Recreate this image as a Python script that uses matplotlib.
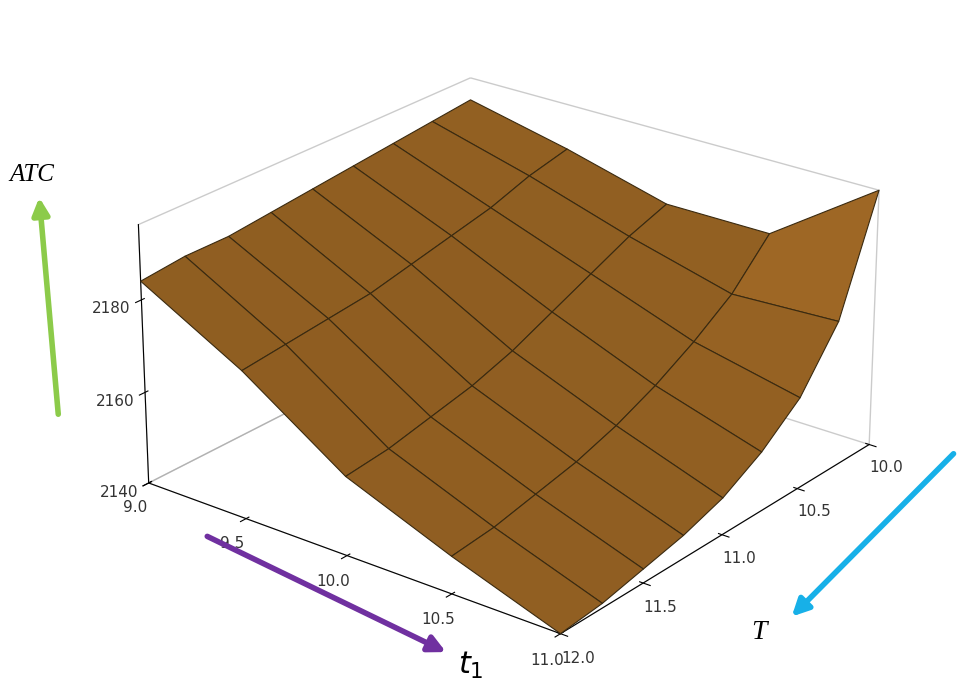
import numpy as np
import matplotlib
matplotlib.use("Agg")
import matplotlib.pyplot as plt
from matplotlib.patches import FancyArrowPatch
from matplotlib.colors import LightSource

t1_vals = [9.0, 9.5, 10.0, 10.5, 11.0]
T_vals = [10.0, 10.25, 10.5, 10.75, 11.0, 11.25, 11.5, 11.75, 12.0]
atc = [
    [2191, 2190, 2189, 2188, 2187, 2186, 2185, 2185, 2184],
    [2186, 2184, 2181, 2179, 2177, 2175, 2174, 2173, 2172],
    [2180, 2177, 2173, 2169, 2165, 2162, 2160, 2158, 2157],
    [2180, 2171, 2165, 2160, 2156, 2153, 2151, 2149, 2148],
    [2196, 2172, 2160, 2153, 2148, 2145, 2143, 2141, 2140],
]

T, t1 = np.meshgrid(T_vals, t1_vals)
Z = np.array(atc, dtype=float)

fig = plt.figure(figsize=(9.75, 6.95), dpi=100)
ax = fig.add_axes([0.05, -0.05, 0.93, 1.1], projection='3d')
ax.set_box_aspect((1.15, 1.15, 0.62))
ax.plot_surface(T, t1, Z, color='#F9A33A', edgecolor='#3a2a10', linewidth=0.8,
                shade=True, lightsource=LightSource(azdeg=200, altdeg=75),
                antialiased=True)
ax.view_init(elev=24, azim=38)
ax.set_xlim(10, 12); ax.set_ylim(9, 11); ax.set_zlim(2140, 2196)
ax.set_xticks([10.0, 10.5, 11.0, 11.5, 12.0])
ax.set_yticks([9.0, 9.5, 10.0, 10.5, 11.0])
ax.set_zticks([2140, 2160, 2180])
ax.set_xticklabels(['10.0', '10.5', '11.0', '11.5', '12.0'], fontsize=11, color='#333')
ax.set_yticklabels(['9.0', '9.5', '10.0', '10.5', '11.0'], fontsize=11, color='#333')
ax.set_zticklabels(['2140', '2160', '2180'], fontsize=11, color='#333')
for a in (ax.xaxis, ax.yaxis, ax.zaxis):
    a.pane.fill = False
    a.pane.set_edgecolor('#999')
    a._axinfo['grid']['color'] = (1, 1, 1, 0)
ax.grid(False)

def arrow(p0, p1, c):
    fig.patches.append(FancyArrowPatch(p0, p1, transform=fig.transFigure,
                       arrowstyle='-|>', mutation_scale=25, lw=4, color=c))

arrow((0.06, 0.40), (0.04, 0.72), '#8CCB4A')
arrow((0.21, 0.23), (0.46, 0.06), '#7030A0')
arrow((0.98, 0.35), (0.81, 0.11), '#17B0E8')
fig.text(0.01, 0.74, 'ATC', fontsize=18, style='italic', family='Liberation Serif')
fig.text(0.47, 0.03, '$t_1$', fontsize=22)
fig.text(0.77, 0.08, 'T', fontsize=20, style='italic', family='Liberation Serif')
fig.savefig('out.png', dpi=100)
